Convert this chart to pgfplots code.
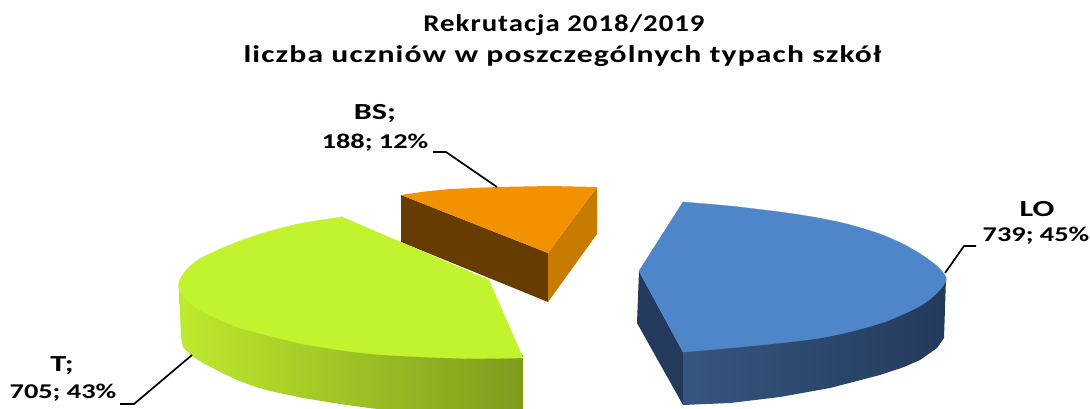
\documentclass[border=0pt]{standalone}
\usepackage{pgfplots}
\usepackage{fontspec}
\setmainfont{Carlito}
\newfontfamily\titlefont[LetterSpace=3.5]{Carlito}
\pgfplotsset{compat=1.18}
\definecolor{loTop}{HTML}{4F86CA}
\definecolor{loDark}{HTML}{243A5C}
\definecolor{loMid}{HTML}{36567F}
\definecolor{loMid2}{HTML}{263E60}
\definecolor{tTop}{HTML}{C1F42E}
\definecolor{tL}{HTML}{BEEA2E}
\definecolor{tM}{HTML}{A8D42A}
\definecolor{tR}{HTML}{7E9B1C}
\definecolor{bsTop}{HTML}{F39200}
\definecolor{bsDark}{HTML}{663C00}
\definecolor{bsSide}{HTML}{C67A00}
\begin{document}
\begin{tikzpicture}
\begin{axis}[
  scale only axis, width=1090pt, height=408pt,
  xmin=0, xmax=1090, ymin=0, ymax=408, y dir=reverse,
  hide axis, clip=true]
\addplot[draw=none, fill=white] coordinates {(0,0)(1090,0)(1090,408)(0,408)} \closedcycle;
% BS
\addplot[draw=none, fill=bsDark] coordinates {(401,195)(548,253)(548,302)(401,242)} -- cycle;
\addplot[draw=none, fill=bsSide] coordinates {(597,187)(597,234)(548,302)(548,253)} -- cycle;
\addplot[draw=none, fill=bsTop] coordinates {(401,195)(425,191.5)(450,189)(497,187)(550,186)(597,187)(548,253)} -- cycle;
% T
\addplot[draw=none, left color=tL, middle color=tM, right color=tR] coordinates {(179,285)(181,337)(183,347)(192,356)(203,363)(220,372)(237,380)(253,386)(270,391)(303,398)(340,404)(373,408.5)(423,413)(473,416)(523,417)(523,355)(300,300)} -- cycle;
\addplot[smooth, draw=tTop, fill=tTop, line width=0.3pt] coordinates {(342,217)(303,223)(270,231)(237,242)(203,257)(187,269)(179,282)(180,292)(190,303)(203,312)(237,327)(270,336)(303,344)(340,350)(373,354)(423,357)(473,358.5)(523,358)} -- cycle;
\addplot[draw=tTop, fill=tTop, line width=0.3pt] coordinates {(342,217)(489,280)(523,358)} -- cycle;
% LO
\addplot[draw=none, fill=loDark] coordinates {(639,271)(683,352)(683,405)(637,323)} -- cycle;
\addplot[draw=none, left color=loMid, middle color=loMid2, right color=loDark] coordinates {(683,300)(946,278)(944,338)(937,348)(920,360)(904,367)(880,375)(830,388)(780,397)(730,403)(683,405)} -- cycle;
\addplot[smooth, draw=loTop, fill=loTop, line width=0.3pt] coordinates {(683,202)(730,206)(780,212)(813,217)(847,224)(880,234)(905,245)(925,257)(938,267)(946,277)(945,283)(937,293)(920,306)(887,321)(853,331)(820,338)(780,343)(730,348)(683,352)} -- cycle;
\addplot[draw=loTop, fill=loTop, line width=0.3pt] coordinates {(683,202)(639,271)(683,352)} -- cycle;
% leaders
\addplot[black, line width=1.7pt] coordinates {(433,152)(446,152)(497,187)};
\addplot[black, line width=1.7pt] coordinates {(976,246)(964,246)(945,273)};
\addplot[black, line width=1.7pt] coordinates {(120,404)(134,404)(192,355)};
% text
\node at (axis cs:564,25) {\scalebox{1.2}[1]{\fontsize{24}{26}\selectfont\titlefont\bfseries Rekrutacja 2018/2019}};
\node at (axis cs:562.5,56) {\scalebox{1.32}[1]{\fontsize{24}{26}\selectfont\titlefont\bfseries liczba uczniów w poszczególnych typach szkół}};
\node at (axis cs:1037,209) {\scalebox{1.4}[1]{\fontsize{23}{26}\selectfont\bfseries LO}};
\node at (axis cs:1036,236) {\scalebox{1.35}[1]{\fontsize{21}{26}\selectfont\bfseries 739; 45\%}};
\node at (axis cs:375,114) {\scalebox{1.4}[1]{\fontsize{23}{26}\selectfont\bfseries BS;}};
\node at (axis cs:375,143) {\scalebox{1.35}[1]{\fontsize{21}{26}\selectfont\bfseries 188; 12\%}};
\node at (axis cs:62,366) {\scalebox{1.4}[1]{\fontsize{23}{26}\selectfont\bfseries T;}};
\node at (axis cs:63,393) {\scalebox{1.35}[1]{\fontsize{21}{26}\selectfont\bfseries 705; 43\%}};
\end{axis}
\end{tikzpicture}
\end{document}
